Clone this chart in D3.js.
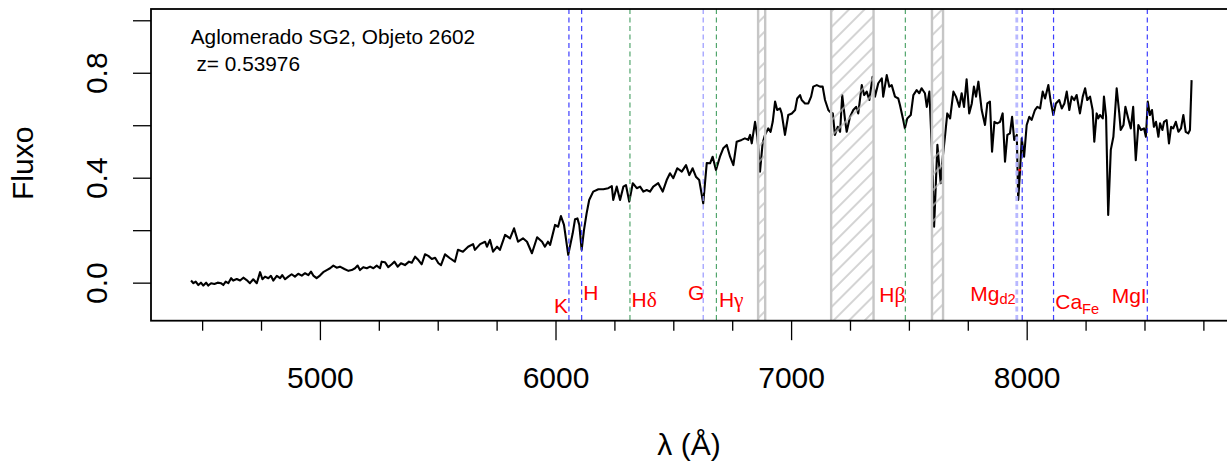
<!DOCTYPE html>
<html>
<head>
<meta charset="utf-8">
<script src="https://cdn.jsdelivr.net/npm/d3@7"></script>
<style>
  html, body { margin: 0; padding: 0; background: #fff; }
  svg { display: block; font-family: "Liberation Sans", Arial, Helvetica, sans-serif; }
</style>
</head>
<body>
<svg id="chart" width="1227" height="464"></svg>
<script>
// Observed spectrum: [wavelength (Å), normalised flux]
const spectrumPoints = [
  [4453,0.008],[4463,-0.002],[4473,0.004],[4484,-0.009],[4495,0.000],[4505,-0.011],[4517,0.000],[4526,-0.011],
  [4538,-0.002],[4552,-0.005],[4566,0.000],[4580,-0.002],[4590,-0.009],[4600,0.004],[4611,-0.002],[4623,0.017],
  [4632,0.008],[4647,0.014],[4661,0.008],[4675,0.019],[4689,0.010],[4703,-0.002],[4717,0.013],[4732,-0.002],
  [4746,0.040],[4756,0.013],[4767,0.023],[4781,0.017],[4792,0.026],[4802,0.008],[4817,0.026],[4831,0.017],
  [4840,0.029],[4852,0.013],[4866,0.023],[4880,0.032],[4894,0.023],[4908,0.034],[4923,0.027],[4937,0.036],
  [4951,0.029],[4962,0.042],[4972,0.027],[4986,0.017],[5000,0.027],[5014,0.040],[5029,0.048],[5043,0.055],
  [5057,0.065],[5071,0.057],[5085,0.061],[5104,0.052],[5121,0.045],[5135,0.048],[5149,0.055],[5160,0.065],
  [5170,0.048],[5184,0.059],[5199,0.055],[5213,0.061],[5227,0.055],[5241,0.065],[5255,0.055],[5262,0.080],
  [5276,0.078],[5290,0.059],[5305,0.070],[5316,0.080],[5330,0.061],[5344,0.074],[5361,0.067],[5378,0.080],
  [5390,0.076],[5404,0.099],[5418,0.086],[5432,0.070],[5446,0.108],[5460,0.102],[5475,0.090],[5489,0.095],
  [5503,0.074],[5514,0.067],[5531,0.108],
  [5552,0.093],[5573,0.080],[5586,0.125],[5607,0.118],[5629,0.137],[5650,0.147],[5658,0.125],[5680,0.147],
  [5701,0.156],[5709,0.137],[5722,0.163],[5735,0.118],[5752,0.137],[5764,0.125],[5786,0.182],[5807,0.169],
  [5824,0.207],[5841,0.156],[5862,0.169],[5879,0.156],[5900,0.112],[5922,0.173],[5943,0.156],[5955,0.137],
  [5968,0.156],[5977,0.144],[5998,0.220],[6011,0.213],[6023,0.254],[6036,0.220],[6054,0.106],[6073,0.188],
  [6083,0.242],[6093,0.245],[6101,0.220],[6111,0.125],[6121,0.201],[6132,0.264],[6143,0.315],[6160,0.347],
  [6182,0.356],[6203,0.356],[6224,0.360],[6239,0.368],[6245,0.315],[6260,0.366],[6274,0.315],[6288,0.366],
  [6299,0.372],[6313,0.309],[6328,0.379],[6345,0.360],[6359,0.366],[6373,0.347],[6387,0.353],[6401,0.347],
  [6415,0.366],[6436,0.379],[6455,0.347],[6472,0.391],[6486,0.417],[6500,0.398],[6517,0.436],[6536,0.423],
  [6554,0.448],[6568,0.410],[6582,0.436],[6596,0.404],[6610,0.391],[6627,0.302],[6642,0.456],[6656,0.455],
  [6667,0.480],[6681,0.429],[6698,0.480],[6712,0.512],[6727,0.525],[6741,0.480],[6755,0.448],[6769,0.537],
  [6790,0.544],[6804,0.550],[6818,0.544],[6826,0.563],[6833,0.531],[6847,0.613],[6857,0.556],[6868,0.423],
  [6879,0.531],[6889,0.563],[6903,0.588],[6913,0.575],[6922,0.613],[6932,0.690],[6941,0.658],[6953,0.664],
  [6960,0.645],[6974,0.563],[6988,0.639],[7003,0.645],[7017,0.658],[7026,0.702],[7038,0.715],[7045,0.696],
  [7059,0.683],[7073,0.683],[7085,0.709],[7094,0.747],[7109,0.753],[7123,0.747],[7134,0.747],[7144,0.696],
  [7158,0.658],[7165,0.651],[7177,0.645],[7186,0.563],[7198,0.594],[7208,0.575],[7217,0.715],[7229,0.620],
  [7236,0.575],[7250,0.632],[7264,0.658],[7276,0.670],[7285,0.645],[7300,0.753],[7310,0.715],[7321,0.728],
  [7332,0.696],[7346,0.785],[7356,0.709],[7370,0.760],[7385,0.779],[7391,0.709],[7406,0.791],[7417,0.747],
  [7427,0.753],[7441,0.709],[7455,0.702],[7462,0.677],[7476,0.620],[7483,0.588],[7493,0.626],[7508,0.639],
  [7519,0.715],[7533,0.734],[7544,0.722],[7554,0.741],[7568,0.722],[7576,0.670],[7587,0.728],[7597,0.518],
  [7607,0.213],[7615,0.391],[7621,0.525],[7629,0.442],[7635,0.379],[7644,0.480],[7653,0.556],[7663,0.645],
  [7675,0.626],[7689,0.728],[7700,0.709],[7714,0.670],[7724,0.722],[7734,0.670],[7745,0.775],[7756,0.645],
  [7767,0.683],[7776,0.747],[7785,0.709],[7795,0.766],[7809,0.658],[7823,0.601],[7833,0.683],[7844,0.690],
  [7853,0.499],[7863,0.613],[7875,0.607],[7887,0.613],[7898,0.645],[7908,0.461],[7918,0.563],[7929,0.569],
  [7938,0.632],[7947,0.544],[7958,0.563],[7964,0.315],[7972,0.429],[7979,0.550],[7989,0.480],[8000,0.601],
  [8011,0.632],[8021,0.620],[8035,0.658],[8045,0.670],[8057,0.664],[8068,0.728],[8078,0.702],[8092,0.753],
  [8102,0.690],[8113,0.639],[8124,0.683],[8138,0.696],[8149,0.664],[8160,0.683],[8170,0.728],[8181,0.658],
  [8191,0.709],[8202,0.696],[8212,0.715],[8226,0.645],[8238,0.709],[8248,0.741],[8257,0.696],[8269,0.709],
  [8280,0.658],[8287,0.537],[8297,0.645],[8304,0.626],[8311,0.639],[8323,0.626],[8328,0.709],[8337,0.632],
  [8346,0.258],[8357,0.506],[8368,0.556],[8382,0.741],[8393,0.645],[8399,0.582],[8411,0.601],[8419,0.670],
  [8431,0.626],[8442,0.588],[8452,0.670],[8463,0.467],[8474,0.601],[8485,0.582],[8498,0.588],[8506,0.556],
  [8514,0.690],[8523,0.639],[8532,0.658],[8540,0.594],[8549,0.613],[8559,0.556],[8566,0.607],[8576,0.582],
  [8583,0.613],[8594,0.620],[8604,0.531],[8613,0.594],[8622,0.588],[8633,0.613],[8644,0.575],[8655,0.588],
  [8665,0.639],[8675,0.575],[8686,0.569],[8693,0.582],[8700,0.772]
];

// Flagged point on the Mg feature
const markedPoints = [[7970, 0.429]];

// Absorption features, observed wavelength (Å)
const featureNames = ["K", "H", "Hδ", "G", "Hγ", "Hβ", "Mgd2", "Mgd2b", "CaFe", "MgI"];
const featureWaves = [6057, 6111, 6316, 6627, 6683, 7485, 7958, 7981, 8114, 8512];
const featureKinds = ["blue", "blue", "green", "pale", "green", "green", "paleWide", "blue", "blue", "blue"];

// Telluric bands masked in the spectrum (Å)
const tellBands = [[6860, 6890], [7170, 7350], [7598, 7645]];

// Axis ticks
const xMajorTicks = [5000, 6000, 7000, 8000];
const xMinorTicks = [4500, 4750, 5250, 5500, 5750, 6250, 6500, 6750, 7250, 7500, 7750, 8250, 8500, 8750];
const yTicks = [0, 0.2, 0.4, 0.6, 0.8, 1.0];
const yTickLabels = ["0.0", "", "0.4", "", "0.8", ""];

const titleLines = ["Aglomerado SG2, Objeto 2602", " z= 0.53976"];

// ---- layout & style ----
const plot = { left: 151, right: 1230, top: 9, bottom: 320.7 };

const kindStyle = {
  blue:     { stroke: "#3434ff", width: 1.2, opacity: 0.95 },
  pale:     { stroke: "#9a9aff", width: 1.3, opacity: 0.95 },
  paleWide: { stroke: "#b4b4ff", width: 2.8, opacity: 0.95 },
  green:    { stroke: "#48a064", width: 1.2, opacity: 0.95 }
};

// Label placement for each named feature: side of the line, pixel offset, baseline
const labelLayout = [
  { feature: "K",    main: "K",  greek: "",  sub: "",   side: "end",   dx: -1,  baseline: 313.3, subDy: 0 },
  { feature: "H",    main: "H",  greek: "",  sub: "",   side: "start", dx: 1.5, baseline: 300.0, subDy: 0 },
  { feature: "Hδ",   main: "H",  greek: "δ", sub: "",   side: "start", dx: 1.5, baseline: 306.7, subDy: 0 },
  { feature: "G",    main: "G",  greek: "",  sub: "",   side: "end",   dx: 1,   baseline: 300.0, subDy: 0 },
  { feature: "Hγ",   main: "H",  greek: "γ", sub: "",   side: "start", dx: 2.5, baseline: 306.7, subDy: 0 },
  { feature: "Hβ",   main: "H",  greek: "β", sub: "",   side: "end",   dx: 0,   baseline: 301.7, subDy: 0 },
  { feature: "Mgd2", main: "Mg", greek: "",  sub: "d2", side: "end",   dx: -1,  baseline: 300.7, subDy: 3.5 },
  { feature: "CaFe", main: "Ca", greek: "",  sub: "Fe", side: "start", dx: 1.7, baseline: 309.3, subDy: 4.7 },
  { feature: "MgI",  main: "MgI", greek: "", sub: "",   side: "end",   dx: -0.6, baseline: 302.7, subDy: 0 }
];

const svg = d3.select("#chart");

const x = d3.scaleLinear().domain([4283, 8863]).range([plot.left, plot.right]);
const y = d3.scaleLinear().domain([-0.145, 1.043]).range([plot.bottom, plot.top]);

// hatch pattern for telluric bands
const defs = svg.append("defs");
const pat = defs.append("pattern")
  .attr("id", "hatch")
  .attr("patternUnits", "userSpaceOnUse")
  .attr("width", 11).attr("height", 11)
  .attr("patternTransform", "rotate(45)");
pat.append("line")
  .attr("x1", 2).attr("y1", 0).attr("x2", 2).attr("y2", 11)
  .attr("stroke", "#bdbdbd").attr("stroke-width", 1.3);

defs.append("clipPath").attr("id", "plotClip")
  .append("rect")
  .attr("x", plot.left).attr("y", plot.top)
  .attr("width", plot.right - plot.left).attr("height", plot.bottom - plot.top);

const inner = svg.append("g").attr("clip-path", "url(#plotClip)");

// spectrum
const line = d3.line().x(d => x(d[0])).y(d => y(d[1]));
inner.append("path")
  .datum(spectrumPoints)
  .attr("d", line)
  .attr("fill", "none")
  .attr("stroke", "#000")
  .attr("stroke-width", 2.1)
  .attr("stroke-linejoin", "round");

inner.selectAll("circle.mark")
  .data(markedPoints)
  .join("circle")
  .attr("class", "mark")
  .attr("cx", d => x(d[0])).attr("cy", d => y(d[1]))
  .attr("r", 1.4).attr("fill", "#ff0000");

// telluric bands: hatch + grey borders
const bandG = inner.append("g");
bandG.selectAll("rect")
  .data(tellBands)
  .join("rect")
  .attr("x", d => x(d[0]))
  .attr("width", d => x(d[1]) - x(d[0]))
  .attr("y", plot.top)
  .attr("height", plot.bottom - plot.top)
  .attr("fill", "url(#hatch)");
bandG.selectAll("line")
  .data(tellBands.flat())
  .join("line")
  .attr("x1", d => x(d)).attr("x2", d => x(d))
  .attr("y1", plot.top).attr("y2", plot.bottom)
  .attr("stroke", "#c6c6c6").attr("stroke-width", 2.4);

// feature lines
const features = featureNames.map((n, i) => ({ name: n, wave: featureWaves[i], kind: featureKinds[i] }));
inner.selectAll("line.feature")
  .data(features)
  .join("line")
  .attr("class", "feature")
  .attr("x1", d => x(d.wave)).attr("x2", d => x(d.wave))
  .attr("y1", plot.top).attr("y2", plot.bottom)
  .attr("stroke", d => kindStyle[d.kind].stroke)
  .attr("stroke-width", d => kindStyle[d.kind].width)
  .attr("stroke-opacity", d => kindStyle[d.kind].opacity)
  .attr("stroke-dasharray", "5,3.5");

// feature labels
const waveOf = name => featureWaves[featureNames.indexOf(name)];
const labels = svg.append("g").attr("fill", "#ff0000").attr("font-size", 21);
labelLayout.forEach(l => {
  const t = labels.append("text")
    .attr("x", x(waveOf(l.feature)) + l.dx)
    .attr("y", l.baseline)
    .attr("text-anchor", l.side);
  t.append("tspan").text(l.main);
  if (l.greek) {
    t.append("tspan")
      .attr("font-family", "'Liberation Serif', 'DejaVu Serif', serif")
      .attr("font-size", 21.5)
      .text(l.greek);
  }
  if (l.sub) {
    t.append("tspan")
      .attr("font-size", 14.7)
      .attr("dy", l.subDy)
      .text(l.sub);
  }
});

// title text inside plot
const title = svg.append("g").attr("font-size", 20.8).attr("fill", "#000");
title.selectAll("text")
  .data(titleLines)
  .join("text")
  .attr("x", 190.7)
  .attr("y", (d, i) => 44.3 + i * 26.4)
  .attr("xml:space", "preserve")
  .style("white-space", "pre")
  .text(d => d);

// frame
svg.append("rect")
  .attr("x", plot.left).attr("y", plot.top)
  .attr("width", plot.right - plot.left).attr("height", plot.bottom - plot.top)
  .attr("fill", "none").attr("stroke", "#000").attr("stroke-width", 1.8);

// x axis
const xAxisG = svg.append("g").attr("transform", `translate(0,${plot.bottom})`);
xAxisG.append("g")
  .call(d3.axisBottom(x).tickValues(xMinorTicks).tickSize(10).tickFormat(""))
  .call(g => g.select(".domain").remove());
xAxisG.append("g")
  .call(d3.axisBottom(x).tickValues(xMajorTicks).tickSize(19.5).tickFormat(d3.format("d")))
  .call(g => g.select(".domain").remove())
  .call(g => g.selectAll("text")
    .attr("y", 67.6).attr("dy", 0)
    .attr("font-size", 30)
    .attr("font-family", "'Liberation Sans', Arial, sans-serif")
    .attr("fill", "#000"));
xAxisG.selectAll(".tick line").attr("stroke", "#000").attr("stroke-width", 1.3);

// y axis
const yAxisG = svg.append("g").attr("transform", `translate(${plot.left},0)`);
yAxisG.call(d3.axisLeft(y).tickValues(yTicks).tickSize(18)
    .tickFormat((d, i) => yTickLabels[i]))
  .call(g => g.select(".domain").remove())
  .call(g => g.selectAll(".tick line").attr("stroke", "#000").attr("stroke-width", 1.3))
  .call(g => g.selectAll("text")
    .attr("x", null).attr("dy", null)
    .attr("transform", "translate(-44,0) rotate(-90)")
    .attr("text-anchor", "middle")
    .attr("font-size", 30)
    .attr("font-family", "'Liberation Sans', Arial, sans-serif")
    .attr("fill", "#000"));

// axis titles
svg.append("text")
  .attr("transform", "translate(33,163.3) rotate(-90)")
  .attr("text-anchor", "middle")
  .attr("font-size", 30)
  .text("Fluxo");

svg.append("text")
  .attr("x", 689)
  .attr("y", 455)
  .attr("text-anchor", "middle")
  .attr("font-size", 30)
  .text("λ (Å)");
</script>
</body>
</html>
